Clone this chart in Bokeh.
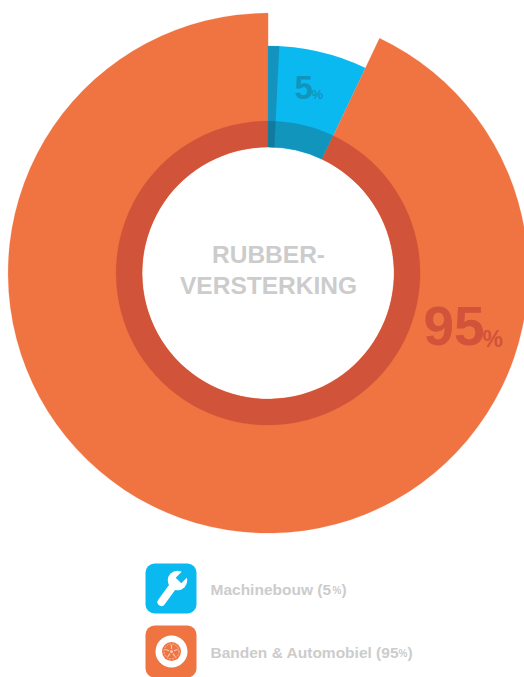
import math
from bokeh.plotting import figure
from bokeh.embed import file_html
from bokeh.resources import INLINE
from bokeh.core.properties import value

# Data
categories = ["Machinebouw", "Banden & Automobiel"]
printed_percent = [5, 95]
drawn_share = [7.05, 92.95]      # the slices are drawn wider than the printed 5 %
accent_share = [0.78]            # darker strip at the start of the blue slice
title_lines = ["RUBBER-", "VERSTERKING"]
outer_radius = [227, 260]
outer_colors = ["#0BB9F1", "#F07342"]
ring_colors = ["#1295BD", "#D15339"]

W, H = 524, 677
p = figure(width=W, height=H, x_range=(0, W), y_range=(0, H), toolbar_location=None,
           output_backend="svg", min_border=0, outline_line_color=None,
           background_fill_color="white", border_fill_color="white")
p.axis.visible = False
p.grid.visible = False

Y = lambda py: H - py
CX, CY = 267.6, Y(272.6)
R_IN, R_RING = 126, 152


def clock(share):
    return math.pi / 2 - share / 100 * 2 * math.pi


def wedge(r0, r1, s0, s1, color):
    p.annular_wedge(x=[CX], y=[CY], inner_radius=r0, outer_radius=r1,
                    start_angle=clock(s1), end_angle=clock(s0),
                    fill_color=color, fill_alpha=1, line_color=color, line_alpha=1, line_width=0.2)


start = 0
for share, radius, c_out, c_ring in zip(drawn_share, outer_radius, outer_colors, ring_colors):
    wedge(R_IN, radius, start, start + share, c_out)
    wedge(R_IN, R_RING, start, start + share, c_ring)
    start += share
wedge(R_RING, outer_radius[0], 0, accent_share[0], "#1393BD")
wedge(R_IN, R_RING, 0, accent_share[0], "#127A9E")


def text(x, y, s, size, color, align="left"):
    p.text(x=[x], y=[Y(y)], text=[s], text_font=value("Liberation Sans"),
           text_font_size=f"{size}px", text_font_style="bold",
           text_color=color, text_align=align, text_baseline="middle")


GREY = "#CCCCCC"
text(268, 253.5, title_lines[0], 24.5, GREY, "center")
text(268, 285, title_lines[1], 24.5, GREY, "center")

text(294, 87, str(printed_percent[0]), 33, "#1295BD")
text(311, 94, "%", 13, "#1295BD")
text(423, 325, str(printed_percent[1]), 55, "#D15339")
text(482, 338, "%", 23, "#D15339")

# Legend
for top, bottom, color in [(563, 613, outer_colors[0]), (625, 677, outer_colors[1])]:
    p.quad(left=[145], right=[196], top=[Y(top)], bottom=[Y(bottom)], fill_color=color,
           line_color=None, border_radius=9)

# wrench icon
p.line([161, 173], [Y(601.5), Y(585)], line_color="white", line_width=8, line_cap="round")
p.scatter([177], [Y(580)], size=19.5, fill_color="white", line_color=None)
p.line([178, 189], [Y(580), Y(569)], line_color=outer_colors[0], line_width=8)

# tyre icon
TX, TY = 171, Y(651)
p.scatter([TX], [TY], size=32, fill_color="white", line_color=None)
p.scatter([TX], [TY], size=19, fill_color=outer_colors[1], line_color=None)
p.scatter([TX], [TY], size=15, fill_color=None, line_color="#F9C9B4", line_width=0.8, line_dash="2 1")
p.scatter([TX], [TY], size=3, fill_color="#F9C9B4", line_color=None)
for k in range(5):
    a = math.pi / 2 + k * 2 * math.pi / 5
    p.line([TX + 2.5 * math.cos(a), TX + 6.5 * math.cos(a)],
           [TY + 2.5 * math.sin(a), TY + 6.5 * math.sin(a)], line_color="#F9C9B4", line_width=1.2)

legend_y = [589, 651.5]
LS = 15.5
text(210, legend_y[0], f"{categories[0]} ({printed_percent[0]}", LS, GREY)
text(332, legend_y[0] + 1, "%", 10, GREY)
text(341, legend_y[0], ")", LS, GREY)
text(210, legend_y[1], f"{categories[1]} ({printed_percent[1]}", LS, GREY)
text(398, legend_y[1] + 1, "%", 10, GREY)
text(407, legend_y[1], ")", LS, GREY)

open("out.html", "w").write(file_html(p, INLINE))
